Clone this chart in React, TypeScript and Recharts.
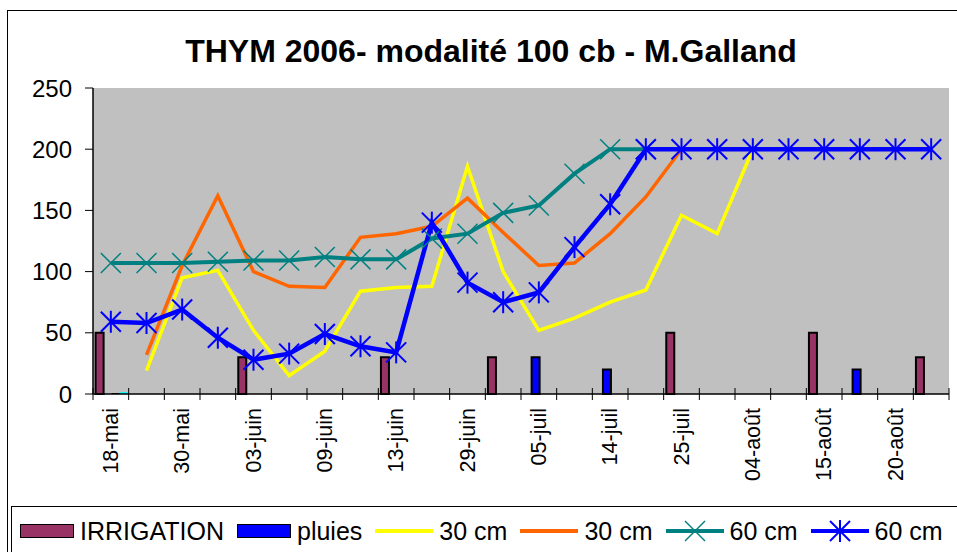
import { ComposedChart, Bar, Line, XAxis, YAxis, CartesianGrid } from 'recharts'

// categories (odd ones are not labelled on the chart)
const dates = [
  '18-mai', '24-mai', '30-mai', '01-juin', '03-juin', '06-juin', '09-juin', '11-juin',
  '13-juin', '21-juin', '29-juin', '02-juil', '05-juil', '10-juil', '14-juil', '20-juil',
  '25-juil', '31-juil', '04-août', '10-août', '15-août', '18-août', '20-août', '25-août',
]

const irrigation = [50, null, null, null, 30, null, null, null, 30, null, null, 30, null, null, null, null, 50, null, null, null, 50, null, null, 30]
const pluies = [null, null, null, null, null, null, null, null, null, null, null, null, 30, null, 20, null, null, null, null, null, null, 20, null, null]
const serie3 = [0.8, null, null, null, null, null, null, null, null, null, null, null, null, null, null, null, null, null, null, null, null, null, null, null]
const serie4 = [1.5, null, null, null, null, null, null, null, null, null, null, null, null, null, null, null, null, null, null, null, null, null, null, null]

const jaune30 = [null, 19, 95, 101, 52, 15, 35, 84, 87, 88, 186, 100, 52, 62, 75, 85, 146, 131, 200, null, null, null, null, null]
const orange30 = [null, 32, 105, 162, 100, 88, 87, 128, 131, 137, 160, 132, 105, 107, 131, 161, 200, null, null, null, null, null, null, null]
const teal60 = [107, 107, 107, 108, 109, 109, 112, 110, 110, 127, 131, 148, 154, 180, 200, 200, null, null, null, null, null, null, null, null]
const bleu60 = [59, 58, 69, 46, 28, 33, 49, 39, 34, 140, 91, 75, 83, 120, 155, 200, 200, 200, 200, 200, 200, 200, 200, 200]

const yTicks = [0, 50, 100, 150, 200, 250]

const data = dates.map((date, i) => ({
  date,
  irrigation: irrigation[i],
  pluies: pluies[i],
  s3: serie3[i],
  s4: serie4[i],
  j30: jaune30[i],
  o30: orange30[i],
  t60: teal60[i],
  b60: bleu60[i],
}))

const W = 957
const H = 552
const LEFT = 93
const RIGHT = 8
const HALF_BAND = (W - LEFT - RIGHT) / dates.length / 2
const FONT = '"Liberation Sans", Arial, sans-serif'

const DateTick = (props: any) => {
  const { x, y, payload, index } = props
  const i = payload?.index ?? index
  return (
    <g>
      <line x1={x - HALF_BAND} x2={x - HALF_BAND} y1={y - 6} y2={y + 6} stroke="#000" strokeWidth={1} />
      {i === dates.length - 1 && (
        <line x1={x + HALF_BAND} x2={x + HALF_BAND} y1={y - 6} y2={y + 6} stroke="#000" strokeWidth={1} />
      )}
      {i % 2 === 0 && (
        <text
          x={x}
          y={y + 14}
          transform={`rotate(-90 ${x} ${y + 14})`}
          textAnchor="end"
          dominantBaseline="central"
          fontSize={21.5}
          fontFamily={FONT}
          fill="#000"
        >
          {payload.value}
        </text>
      )}
    </g>
  )
}

const XDot = (props: any) => {
  const { cx, cy, index } = props
  if (cx == null || cy == null) return <g key={index} />
  const s = 10
  return (
    <g key={index} stroke="#008080" strokeWidth={1.5}>
      <line x1={cx - s} y1={cy - s} x2={cx + s} y2={cy + s} />
      <line x1={cx - s} y1={cy + s} x2={cx + s} y2={cy - s} />
    </g>
  )
}

const StarDot = (props: any) => {
  const { cx, cy, index } = props
  if (cx == null || cy == null) return <g key={index} />
  const s = 10
  return (
    <g key={index} stroke="#0000FF" strokeWidth={2}>
      <line x1={cx - s} y1={cy - s} x2={cx + s} y2={cy + s} />
      <line x1={cx - s} y1={cy + s} x2={cx + s} y2={cy - s} />
      <line x1={cx} y1={cy - 11} x2={cx} y2={cy + 11} />
    </g>
  )
}

const legendItems = [
  { label: 'IRRIGATION', kind: 'bar', color: '#993366' },
  { label: 'pluies', kind: 'bar', color: '#0000FF' },
  { label: '30 cm', kind: 'line', color: '#FFFF00' },
  { label: '30 cm', kind: 'line', color: '#FF6600' },
  { label: '60 cm', kind: 'x', color: '#008080' },
  { label: '60 cm', kind: 'star', color: '#0000FF' },
]

function LegendIcon({ kind, color }: { kind: string; color: string }) {
  if (kind === 'bar') {
    return <div style={{ width: 52, height: 12, background: color, border: '1.5px solid #000' }} />
  }
  return (
    <svg width={58} height={24}>
      <line x1={0} x2={58} y1={12} y2={12} stroke={color} strokeWidth={4} />
      {kind === 'x' && (
        <g stroke={color} strokeWidth={1.5}>
          <line x1={19} y1={2} x2={39} y2={22} />
          <line x1={19} y1={22} x2={39} y2={2} />
        </g>
      )}
      {kind === 'star' && (
        <g stroke={color} strokeWidth={2}>
          <line x1={19} y1={2} x2={39} y2={22} />
          <line x1={19} y1={22} x2={39} y2={2} />
          <line x1={29} y1={1} x2={29} y2={23} />
        </g>
      )}
    </svg>
  )
}

export default function App() {
  return (
    <div style={{ position: 'fixed', left: 0, top: 0, width: W, height: H, overflow: 'hidden', background: '#fff', fontFamily: FONT }}>
      <div style={{ position: 'absolute', left: 7, top: 10, width: 1000, height: 700, border: '1.5px solid #000' }} />
      <div
        style={{
          position: 'absolute', left: 0, top: 35, width: 982, textAlign: 'center',
          fontSize: 32, lineHeight: '32px', fontWeight: 'bold', color: '#000',
        }}
      >
        THYM 2006- modalité 100 cb - M.Galland
      </div>
      <div style={{ position: 'absolute', left: 0, top: 0 }}>
        <ComposedChart
          width={W}
          height={H}
          data={data}
          margin={{ top: 88, right: RIGHT, bottom: 0, left: 0 }}
          barCategoryGap="7.3%"
          barGap={0}
        >
          <CartesianGrid fill="#C0C0C0" horizontal={false} vertical={false} />
          <XAxis
            dataKey="date"
            height={H - 394}
            interval={0}
            tickSize={0}
            tickMargin={0}
            tick={<DateTick />}
            axisLine={{ stroke: '#000', strokeWidth: 1.5 }}
          />
          <XAxis xAxisId="top" dataKey="date" orientation="top" height={0} tick={false} tickLine={false} axisLine={{ stroke: '#808080', strokeWidth: 2 }} />
          <YAxis
            width={LEFT}
            domain={[0, 250]}
            ticks={yTicks}
            interval={0}
            tickSize={8}
            tickMargin={13}
            tick={{ fontSize: 24, fill: '#000', fontFamily: FONT }}
            tickLine={{ stroke: '#000' }}
            axisLine={{ stroke: '#000', strokeWidth: 1.5 }}
          />
          <YAxis yAxisId="right" orientation="right" width={0} domain={[0, 250]} tick={false} tickLine={false} axisLine={{ stroke: '#808080', strokeWidth: 2 }} />
          <Bar dataKey="irrigation" name="IRRIGATION" fill="#993366" stroke="#000" strokeWidth={2} isAnimationActive={false} />
          <Bar dataKey="pluies" name="pluies" fill="#0000FF" stroke="#000" strokeWidth={2} isAnimationActive={false} />
          <Bar dataKey="s3" fill="#000" legendType="none" isAnimationActive={false} />
          <Bar dataKey="s4" fill="#00FFFF" legendType="none" isAnimationActive={false} />
          <Line dataKey="j30" name="30 cm" stroke="#FFFF00" strokeWidth={3.5} dot={false} activeDot={false} isAnimationActive={false} />
          <Line dataKey="o30" name="30 cm" stroke="#FF6600" strokeWidth={3.5} dot={false} activeDot={false} isAnimationActive={false} />
          <Line dataKey="t60" name="60 cm" stroke="#008080" strokeWidth={4} dot={XDot} activeDot={false} isAnimationActive={false} />
          <Line dataKey="b60" name="60 cm" stroke="#0000FF" strokeWidth={4.5} dot={StarDot} activeDot={false} isAnimationActive={false} />
        </ComposedChart>
      </div>
      <div style={{ position: 'absolute', left: 11, top: 506, width: 1000, height: 100, border: '1px solid #000' }}>
        <div style={{ display: 'flex', alignItems: 'center', marginLeft: 8, marginTop: 10, height: 28 }}>
          {legendItems.map((it, i) => (
            <div key={i} style={{ display: 'flex', alignItems: 'center', marginRight: 13 }}>
              <LegendIcon kind={it.kind} color={it.color} />
              <span style={{ fontSize: 25, color: '#000', marginLeft: 6, whiteSpace: 'nowrap' }}>{it.label}</span>
            </div>
          ))}
        </div>
      </div>
    </div>
  )
}
